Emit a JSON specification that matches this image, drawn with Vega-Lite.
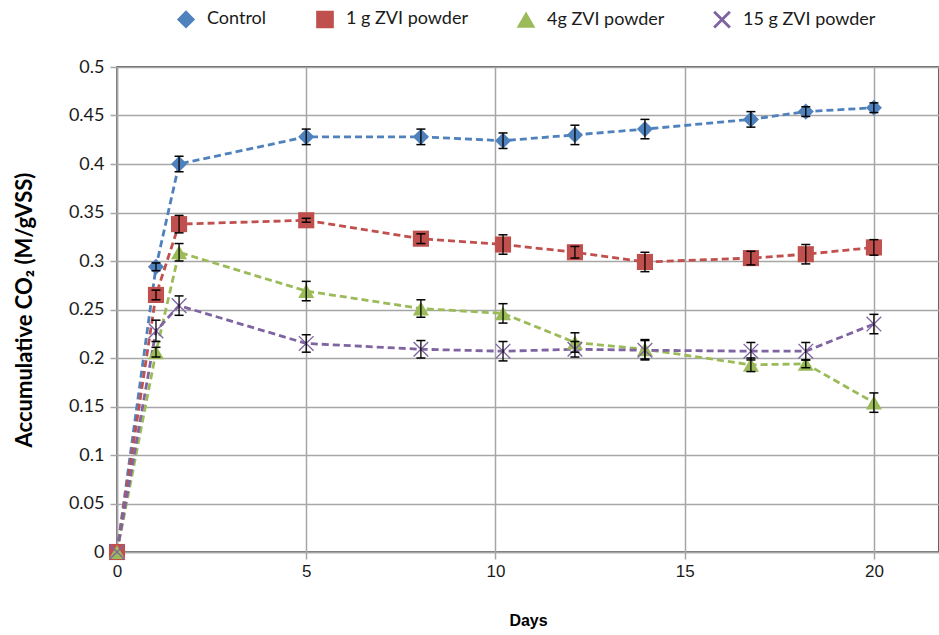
{
  "$schema": "https://vega.github.io/schema/vega-lite/v6.json",
  "autosize": "none",
  "width": 822,
  "height": 485,
  "padding": {"left": 117, "top": 67, "right": 0, "bottom": 83},
  "background": "white",
  "config": {
    "view": {"stroke": "#333333", "strokeWidth": 1.5},
    "font": "Lato"
  },
  "data": {
    "values": [
      {"series": "Control", "day": 0, "co2": 0},
      {"series": "Control", "day": 1.03, "co2": 0.294, "lo": 0.290, "hi": 0.298},
      {"series": "Control", "day": 1.64, "co2": 0.400, "lo": 0.392, "hi": 0.408},
      {"series": "Control", "day": 5, "co2": 0.428, "lo": 0.420, "hi": 0.436},
      {"series": "Control", "day": 8.03, "co2": 0.428, "lo": 0.420, "hi": 0.436},
      {"series": "Control", "day": 10.2, "co2": 0.424, "lo": 0.416, "hi": 0.432},
      {"series": "Control", "day": 12.1, "co2": 0.430, "lo": 0.420, "hi": 0.440},
      {"series": "Control", "day": 13.95, "co2": 0.436, "lo": 0.426, "hi": 0.446},
      {"series": "Control", "day": 16.75, "co2": 0.446, "lo": 0.438, "hi": 0.454},
      {"series": "Control", "day": 18.2, "co2": 0.454, "lo": 0.449, "hi": 0.459},
      {"series": "Control", "day": 20, "co2": 0.458, "lo": 0.453, "hi": 0.463},
      {"series": "1 g ZVI powder", "day": 0, "co2": 0},
      {"series": "1 g ZVI powder", "day": 1.03, "co2": 0.265, "lo": 0.260, "hi": 0.270},
      {"series": "1 g ZVI powder", "day": 1.64, "co2": 0.338, "lo": 0.329, "hi": 0.347},
      {"series": "1 g ZVI powder", "day": 5, "co2": 0.342, "lo": 0.340, "hi": 0.344},
      {"series": "1 g ZVI powder", "day": 8.03, "co2": 0.323, "lo": 0.318, "hi": 0.328},
      {"series": "1 g ZVI powder", "day": 10.2, "co2": 0.317, "lo": 0.307, "hi": 0.327},
      {"series": "1 g ZVI powder", "day": 12.1, "co2": 0.309, "lo": 0.303, "hi": 0.315},
      {"series": "1 g ZVI powder", "day": 13.95, "co2": 0.299, "lo": 0.289, "hi": 0.309},
      {"series": "1 g ZVI powder", "day": 16.75, "co2": 0.303, "lo": 0.296, "hi": 0.310},
      {"series": "1 g ZVI powder", "day": 18.2, "co2": 0.307, "lo": 0.297, "hi": 0.317},
      {"series": "1 g ZVI powder", "day": 20, "co2": 0.314, "lo": 0.306, "hi": 0.322},
      {"series": "4g ZVI powder", "day": 0, "co2": 0},
      {"series": "4g ZVI powder", "day": 1.03, "co2": 0.206, "lo": 0.201, "hi": 0.211},
      {"series": "4g ZVI powder", "day": 1.64, "co2": 0.309, "lo": 0.300, "hi": 0.318},
      {"series": "4g ZVI powder", "day": 5, "co2": 0.269, "lo": 0.259, "hi": 0.279},
      {"series": "4g ZVI powder", "day": 8.03, "co2": 0.251, "lo": 0.242, "hi": 0.260},
      {"series": "4g ZVI powder", "day": 10.2, "co2": 0.246, "lo": 0.236, "hi": 0.256},
      {"series": "4g ZVI powder", "day": 12.1, "co2": 0.216, "lo": 0.206, "hi": 0.226},
      {"series": "4g ZVI powder", "day": 13.95, "co2": 0.209, "lo": 0.199, "hi": 0.219},
      {"series": "4g ZVI powder", "day": 16.75, "co2": 0.193, "lo": 0.186, "hi": 0.200},
      {"series": "4g ZVI powder", "day": 18.2, "co2": 0.194, "lo": 0.190, "hi": 0.198},
      {"series": "4g ZVI powder", "day": 20, "co2": 0.154, "lo": 0.144, "hi": 0.164},
      {"series": "15 g ZVI powder", "day": 0, "co2": 0},
      {"series": "15 g ZVI powder", "day": 1.03, "co2": 0.228, "lo": 0.217, "hi": 0.239},
      {"series": "15 g ZVI powder", "day": 1.64, "co2": 0.254, "lo": 0.244, "hi": 0.264},
      {"series": "15 g ZVI powder", "day": 5, "co2": 0.215, "lo": 0.206, "hi": 0.224},
      {"series": "15 g ZVI powder", "day": 8.03, "co2": 0.209, "lo": 0.200, "hi": 0.218},
      {"series": "15 g ZVI powder", "day": 10.2, "co2": 0.207, "lo": 0.197, "hi": 0.217},
      {"series": "15 g ZVI powder", "day": 12.1, "co2": 0.209, "lo": 0.201, "hi": 0.217},
      {"series": "15 g ZVI powder", "day": 13.95, "co2": 0.208, "lo": 0.198, "hi": 0.218},
      {"series": "15 g ZVI powder", "day": 16.75, "co2": 0.207, "lo": 0.198, "hi": 0.216},
      {"series": "15 g ZVI powder", "day": 18.2, "co2": 0.207, "lo": 0.198, "hi": 0.216},
      {"series": "15 g ZVI powder", "day": 20, "co2": 0.235, "lo": 0.225, "hi": 0.245}
    ]
  },
  "encoding": {
    "x": {
      "field": "day",
      "type": "quantitative",
      "scale": {"domain": [0, 21.72], "nice": false, "zero": true},
      "axis": {
        "title": "Days",
        "values": [0, 5, 10, 15, 20],
        "grid": true,
        "gridColor": "#a6a6a6",
        "gridWidth": 1.5,
        "domainColor": "#a6a6a6",
        "domainWidth": 1.5,
        "tickColor": "#a6a6a6",
        "tickSize": 7,
        "tickWidth": 1.5,
        "labelFlush": false,
        "labelFont": "Liberation Sans",
        "labelFontSize": 17,
        "labelColor": "#1a1a1a",
        "labelPadding": 4,
        "titleFont": "Liberation Sans",
        "titleFontSize": 16,
        "titleFontWeight": "bold",
        "titleColor": "#000000",
        "titlePadding": 33
      }
    },
    "y": {
      "field": "co2",
      "type": "quantitative",
      "scale": {"domain": [0, 0.5], "nice": false},
      "axis": {
        "title": "Accumulative CO₂ (M/gVSS)",
        "values": [0, 0.05, 0.1, 0.15, 0.2, 0.25, 0.3, 0.35, 0.4, 0.45, 0.5],
        "format": "~g",
        "grid": true,
        "gridColor": "#a6a6a6",
        "gridWidth": 1.5,
        "domainColor": "#a6a6a6",
        "domainWidth": 1.5,
        "tickColor": "#a6a6a6",
        "tickSize": 7,
        "tickWidth": 1.5,
        "labelFont": "Lato",
        "labelFontSize": 18,
        "labelColor": "#1a1a1a",
        "labelPadding": 6,
        "titleFont": "Lato",
        "titleFontSize": 22,
        "titleFontWeight": "bold",
        "titleColor": "#000000",
        "titlePadding": 32
      }
    }
  },
  "layer": [
    {
      "mark": {"type": "line", "strokeDash": [7, 4], "strokeWidth": 2.8},
      "encoding": {
        "color": {
          "field": "series",
          "type": "nominal",
          "scale": {
            "domain": ["Control", "1 g ZVI powder", "4g ZVI powder", "15 g ZVI powder"],
            "range": ["#4F81BD", "#C0504D", "#9BBB59", "#8064A2"]
          },
          "legend": {
            "title": null,
            "orient": "none",
            "legendX": 60,
            "legendY": -57,
            "direction": "horizontal",
            "labelFont": "Lato",
            "labelFontSize": 18,
            "labelColor": "#1a1a1a",
            "symbolSize": 180,
            "columnPadding": 46,
            "labelOffset": 12
          }
        },
        "order": {"field": "day", "type": "quantitative"}
      }
    },
    {
      "mark": {"type": "point", "filled": true, "opacity": 1},
      "encoding": {
        "color": {
          "field": "series",
          "type": "nominal",
          "scale": {
            "domain": ["Control", "1 g ZVI powder", "4g ZVI powder", "15 g ZVI powder"],
            "range": ["#4F81BD", "#C0504D", "#9BBB59", "#8064A2"]
          },
          "legend": {
            "title": null,
            "orient": "none",
            "legendX": 60,
            "legendY": -57,
            "direction": "horizontal",
            "labelFont": "Lato",
            "labelFontSize": 18,
            "labelColor": "#1a1a1a",
            "symbolSize": 180,
            "columnPadding": 46,
            "labelOffset": 12
          }
        },
        "shape": {
          "field": "series",
          "type": "nominal",
          "scale": {
            "domain": ["Control", "1 g ZVI powder", "4g ZVI powder", "15 g ZVI powder"],
            "range": ["diamond", "square", "triangle-up", "M-0.85,-0.97L0.97,0.85L0.85,0.97L-0.97,-0.85ZM-0.97,0.85L0.85,-0.97L0.97,-0.85L-0.85,0.97Z"]
          },
          "legend": {
            "title": null,
            "orient": "none",
            "legendX": 60,
            "legendY": -57,
            "direction": "horizontal",
            "labelFont": "Lato",
            "labelFontSize": 18,
            "labelColor": "#1a1a1a",
            "symbolSize": 180,
            "columnPadding": 46,
            "labelOffset": 12
          }
        },
        "size": {
          "field": "series",
          "type": "nominal",
          "scale": {
            "domain": ["Control", "1 g ZVI powder", "4g ZVI powder", "15 g ZVI powder"],
            "range": [260, 260, 260, 330]
          },
          "legend": null
        }
      }
    },
    {
      "transform": [{"filter": "datum.lo != null"}],
      "mark": {"type": "rule", "color": "#000000", "strokeWidth": 1.3},
      "encoding": {
        "y": {"field": "lo", "type": "quantitative"},
        "y2": {"field": "hi"}
      }
    },
    {
      "transform": [{"filter": "datum.lo != null"}],
      "mark": {"type": "tick", "orient": "horizontal", "color": "#000000", "size": 9, "thickness": 1.5, "opacity": 1},
      "encoding": {
        "y": {"field": "lo", "type": "quantitative"}
      }
    },
    {
      "transform": [{"filter": "datum.lo != null"}],
      "mark": {"type": "tick", "orient": "horizontal", "color": "#000000", "size": 9, "thickness": 1.5, "opacity": 1},
      "encoding": {
        "y": {"field": "hi", "type": "quantitative"}
      }
    }
  ]
}
